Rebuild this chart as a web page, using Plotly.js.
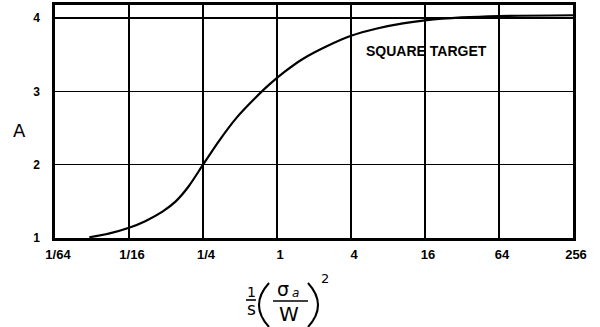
<!DOCTYPE html>
<html>
<head>
<meta charset="utf-8">
<script src="https://cdn.plot.ly/plotly-3.0.1.min.js"></script>
<style>
html,body{margin:0;padding:0;background:#fff;}
#chart{width:600px;height:327px;}
</style>
</head>
<body>
<div id="chart"></div>
<script>
// Data (x on a base-4 log scale)
const curveX = [0.0297, 0.0427, 0.0625, 0.0847, 0.117, 0.150, 0.192, 0.25, 0.339, 0.468, 0.646, 0.859, 1.157, 1.607, 2.49, 4, 6.51, 10.57, 16, 31.7, 64, 256];
const curveY = [1.01, 1.06, 1.14, 1.23, 1.36, 1.50, 1.71, 2.0, 2.33, 2.64, 2.89, 3.09, 3.27, 3.44, 3.61, 3.76, 3.86, 3.93, 3.97, 4.01, 4.03, 4.04];
const xTickVals = [1/64, 1/16, 1/4, 1, 4, 16, 64, 256];
const xTickText = ["1/64", "1/16", "1/4", "1", "4", "16", "64", "256"];
const yTickVals = [1, 2, 3, 4];
const yTickText = ["1", "2", "3", "4"];
const curveLabel = "SQUARE TARGET";
const yTitle = "A";

// plot-area geometry (pixels) for placing decoration in paper coords
const L = 55, R = 573, T = 5, B = 238;
const W = R - L, H = B - T;
const px = v => (v - L) / W;
const py = v => (B - v) / H;

const sans = "Liberation Sans, Arial, sans-serif";
const dv = "DejaVu Sans, sans-serif";

const trace = {
  x: curveX, y: curveY, type: "scatter", mode: "lines",
  line: {color: "#000", width: 2.2, shape: "spline", smoothing: 0.7},
  hoverinfo: "skip"
};

function lab(x, y, text, font) {
  return {x: px(x), y: py(y), xref: "paper", yref: "paper", text: text, showarrow: false,
          xanchor: "center", yanchor: "middle", font: font};
}

const annotations = [
  {x: Math.log10(4 ** 2.02), y: 3.55, xref: "x", yref: "y", text: curveLabel, showarrow: false,
   xanchor: "center", yanchor: "middle",
   font: {family: sans, size: 14, color: "#000", weight: "bold"}},
  lab(19, 130, yTitle, {family: dv, size: 18, color: "#000"}),
  // x-axis title: 1/s (σa/W)^2
  lab(251, 292, "1", {family: dv, size: 14, color: "#000"}),
  lab(251, 309, "s", {family: dv, size: 17, color: "#000"}),
  lab(283, 289, "σ", {family: dv, size: 19, color: "#000"}),
  lab(295, 292.5, "a", {family: dv, size: 12, color: "#000", style: "italic"}),
  lab(288.5, 314, "W", {family: dv, size: 20, color: "#000"}),
  lab(325, 278, "2", {family: dv, size: 13, color: "#000"})
];

function parenPath(xEnd, xBulge, yTop, yBot) {
  const cx = 2 * xBulge - xEnd;
  const cy = (yTop + yBot) / 2;
  return "M " + px(xEnd) + "," + py(yTop) + " Q " + px(cx) + "," + py(cy) + " " + px(xEnd) + "," + py(yBot);
}

const shapes = [
  {type: "line", xref: "paper", yref: "paper", x0: px(246), x1: px(256), y0: py(300), y1: py(300),
   line: {color: "#000", width: 1.6}},
  {type: "line", xref: "paper", yref: "paper", x0: px(273), x1: px(308), y0: py(301), y1: py(301),
   line: {color: "#000", width: 1.6}},
  {type: "path", xref: "paper", yref: "paper", path: parenPath(269, 259, 283, 327),
   line: {color: "#000", width: 2}},
  {type: "path", xref: "paper", yref: "paper", path: parenPath(308, 318, 283, 327),
   line: {color: "#000", width: 2}}
];

const layout = {
  width: 600, height: 327,
  margin: {l: L, r: 600 - R, t: T, b: 327 - B},
  paper_bgcolor: "#fff", plot_bgcolor: "#fff",
  showlegend: false,
  xaxis: {
    type: "log", range: [Math.log10(1/64), Math.log10(256)],
    tickvals: xTickVals, ticktext: xTickText,
    tickfont: {family: sans, size: 13, color: "#000", weight: "bold"},
    ticks: "", showgrid: true, gridcolor: "#000", gridwidth: 1.4,
    showline: true, linecolor: "#000", linewidth: 2.6, mirror: true,
    zeroline: false, ticklabelstandoff: 3, ticklabelshift: 3
  },
  yaxis: {
    range: [1, 4.18], tickvals: yTickVals, ticktext: yTickText,
    tickfont: {family: sans, size: 12, color: "#000", weight: "bold"},
    ticks: "", showgrid: true, gridcolor: "#000", gridwidth: 1.4,
    showline: true, linecolor: "#000", linewidth: 2.6, mirror: true,
    zeroline: false, ticklabelstandoff: 10
  },
  annotations: annotations,
  shapes: shapes
};

Plotly.newPlot("chart", [trace], layout, {displayModeBar: false, staticPlot: true});
</script>
</body>
</html>
